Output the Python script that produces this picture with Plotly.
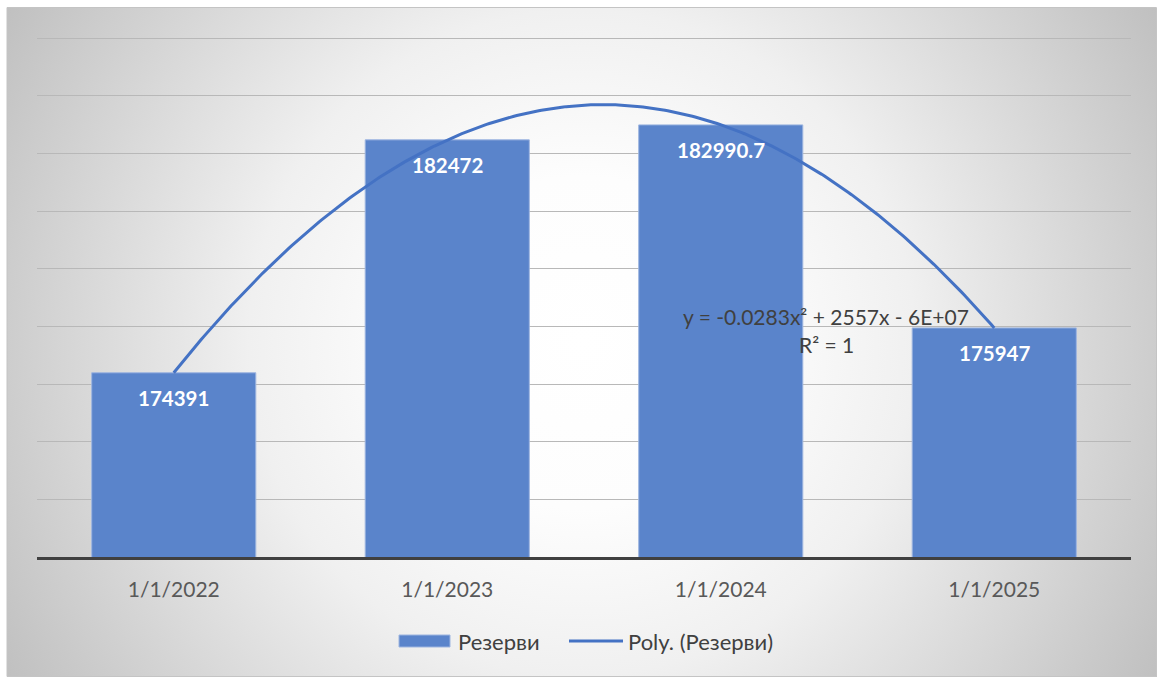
import base64
from datetime import date

import numpy as np
import plotly.graph_objects as go

# ---- data ----
dates = ["1/1/2022", "1/1/2023", "1/1/2024", "1/1/2025"]
reserves = [174391, 182472, 182990.7, 175947]
series_name = "Резерви"
trend_name = "Poly. (Резерви)"
equation_text = "y = -0.0283x² + 2557x - 6E+07"
r2_text = "R² = 1"
y_min, y_max, y_step = 168000, 186000, 2000

# ---- canvas geometry (pixels) ----
W, H = 1157, 677
PL, PR, PT, PB = 37, 1131, 37, 557

BAR_FILL = "#5a84cb"
BAR_EDGE = "#9db5e0"
TREND = "#4472c4"
FONT = "Lato, 'Noto Sans', sans-serif"


def fx(p):
    return (p - PL) / (PR - PL)


def fy(p):
    return (PB - p) / (PB - PT)


idx = np.arange(len(dates))

# polynomial trend (order 2) fitted against date serial numbers
serial = np.array(
    [(date(int(d.split("/")[2]), int(d.split("/")[0]), int(d.split("/")[1])) - date(1899, 12, 30)).days
     for d in dates],
    dtype=float,
)
s0 = serial[0]
coef = np.polyfit(serial - s0, np.array(reserves, dtype=float), 2)
t = np.linspace(idx[0], idx[-1], 300)
trend_y = np.polyval(coef, np.interp(t, idx, serial) - s0)

fig = go.Figure()
fig.add_trace(go.Bar(
    x=idx, y=reserves, width=0.6, name=series_name,
    marker=dict(color=BAR_FILL, line=dict(color=BAR_EDGE, width=1)),
    hoverinfo="skip", showlegend=False,
))
fig.add_trace(go.Scatter(
    x=t, y=trend_y, mode="lines", name=trend_name,
    line=dict(color=TREND, width=3), hoverinfo="skip", showlegend=False,
))

# value labels inside the bars
annotations = []
for i, v in zip(idx, reserves):
    annotations.append(dict(
        x=i, y=v, xref="x", yref="y", text=f"{v:.10g}", showarrow=False,
        yshift=-25, yanchor="middle",
        font=dict(family=FONT, size=20.5, color="white", weight="bold"),
    ))

# trendline equation
for txt, ypix in ((equation_text, 316), (r2_text, 344)):
    annotations.append(dict(
        x=fx(826), y=fy(ypix), xref="paper", yref="paper", text=txt,
        showarrow=False, xanchor="center", yanchor="middle",
        font=dict(family=FONT, size=21, color="#404040"),
    ))

# legend
LEG_Y = 641
annotations.append(dict(
    x=fx(456), y=fy(LEG_Y), xref="paper", yref="paper", text=series_name,
    showarrow=False, xanchor="left", yanchor="middle",
    font=dict(family=FONT, size=22, color="#404040"),
))
annotations.append(dict(
    x=fx(626), y=fy(LEG_Y), xref="paper", yref="paper", text=trend_name,
    showarrow=False, xanchor="left", yanchor="middle",
    font=dict(family=FONT, size=22, color="#404040"),
))

shapes = [
    dict(type="rect", xref="paper", yref="paper",
         x0=fx(399), x1=fx(450), y0=fy(647), y1=fy(635),
         fillcolor=BAR_FILL, line=dict(color=BAR_EDGE, width=1)),
    dict(type="line", xref="paper", yref="paper",
         x0=fx(569), x1=fx(623), y0=fy(LEG_Y), y1=fy(LEG_Y),
         line=dict(color=TREND, width=3)),
    # chart frame
    dict(type="rect", xref="paper", yref="paper",
         x0=fx(7), x1=fx(1156.5), y0=fy(676.5), y1=fy(7.5),
         line=dict(color="#c4c4c4", width=1), fillcolor="rgba(0,0,0,0)", layer="below"),
]

# radial grey background of the chart area
bx0, by0, bx1, by1 = 7, 8, W, H
bw, bh = bx1 - bx0, by1 - by0
svg = f"""<svg xmlns='http://www.w3.org/2000/svg' width='{bw}' height='{bh}' viewBox='0 0 {bw} {bh}'>
<defs><radialGradient id='g' gradientUnits='userSpaceOnUse' cx='{bw*0.5}' cy='{bh*0.5}' r='{np.hypot(bw/2, bh/2):.1f}'>
<stop offset='0' stop-color='#ffffff'/>
<stop offset='0.25' stop-color='#fdfdfd'/>
<stop offset='0.5' stop-color='#f0f0f0'/>
<stop offset='1' stop-color='#c0c0c0'/>
</radialGradient></defs>
<rect x='0' y='0' width='{bw}' height='{bh}' fill='url(#g)'/>
</svg>"""
bg_src = "data:image/svg+xml;base64," + base64.b64encode(svg.encode()).decode()

fig.update_layout(
    width=W, height=H, autosize=False,
    margin=dict(l=PL, r=W - PR, t=PT, b=H - PB, pad=0),
    paper_bgcolor="white", plot_bgcolor="rgba(0,0,0,0)",
    images=[dict(source=bg_src, xref="paper", yref="paper",
                 x=fx(bx0), y=fy(by0), sizex=fx(bx1) - fx(bx0), sizey=fy(by0) - fy(by1),
                 xanchor="left", yanchor="top", sizing="stretch", layer="below")],
    annotations=annotations, shapes=shapes,
    bargap=0.4,
    xaxis=dict(
        range=[-0.5, len(dates) - 0.5], tickmode="array", tickvals=idx, ticktext=dates,
        showgrid=False, zeroline=False, showline=True, linecolor="#404040", linewidth=3,
        ticks="", ticklabelstandoff=12,
        tickfont=dict(family=FONT, size=21, color="#595959"),
        fixedrange=True,
    ),
    yaxis=dict(
        # a hair of headroom so the top gridline is drawn
        range=[y_min, y_max + 40], dtick=y_step, tick0=y_min, showticklabels=False,
        showgrid=True, gridcolor="#b8b8b8", gridwidth=1, zeroline=False, showline=False,
        fixedrange=True,
    ),
)

fig.write_html("out.html")
